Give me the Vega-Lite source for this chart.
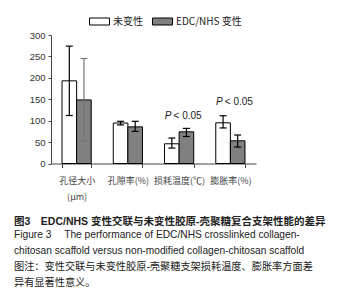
{
  "$schema": "https://vega.github.io/schema/vega-lite/v6.json",
  "width": 205,
  "height": 128.5,
  "autosize": "none",
  "padding": {"left": 51, "top": 35, "right": 93, "bottom": 124.5},
  "background": "white",
  "config": {
    "view": {"stroke": null},
    "font": "Liberation Sans",
    "axis": {"domainColor": "#444", "tickColor": "#444", "labelColor": "#333", "grid": false, "title": null},
    "axisY": {"tickSize": 3, "labelPadding": 3, "labelFontSize": 9.5, "labelOverlap": false, "labelFlush": false}
  },
  "title": {
    "text": "图3　EDC/NHS 变性交联与未变性胶原-壳聚糖复合支架性能的差异",
    "subtitle": ["Figure 3　 The performance of EDC/NHS crosslinked collagen-", "chitosan scaffold versus non-modified collagen-chitosan scaffold", "图注：变性交联与未变性胶原-壳聚糖支架损耗温度、膨胀率方面差", "异有显著性意义。"],
    "orient": "bottom",
    "anchor": "start",
    "frame": "group",
    "dx": -37,
    "offset": 15,
    "font": "Liberation Sans, Noto Sans CJK SC",
    "fontSize": 10.5,
    "fontWeight": "bold",
    "color": "#222",
    "subtitleFont": "Liberation Sans, Noto Sans CJK SC",
    "subtitleFontSize": 10.2,
    "subtitleColor": "#222",
    "subtitleLineHeight": 16,
    "subtitlePadding": 3
  },
  "data": {
    "values": [
      {"cat": "孔径大小(μm)", "grp": "未变性", "value": 193, "low": 112, "high": 274},
      {"cat": "孔径大小(μm)", "grp": "EDC/NHS 变性", "value": 148.5, "low": 52.5, "high": 245},
      {"cat": "孔隙率(%)", "grp": "未变性", "value": 94.5, "low": 90, "high": 98.5},
      {"cat": "孔隙率(%)", "grp": "EDC/NHS 变性", "value": 85.5, "low": 75, "high": 98.5},
      {"cat": "损耗温度(℃)", "grp": "未变性", "value": 46, "low": 36, "high": 59.5},
      {"cat": "损耗温度(℃)", "grp": "EDC/NHS 变性", "value": 74, "low": 63, "high": 82},
      {"cat": "膨胀率(%)", "grp": "未变性", "value": 95, "low": 83, "high": 111.5},
      {"cat": "膨胀率(%)", "grp": "EDC/NHS 变性", "value": 53, "low": 38.5, "high": 66.5}
    ]
  },
  "encoding": {
    "x": {
      "field": "cat", "type": "nominal",
      "sort": ["孔径大小(μm)", "孔隙率(%)", "损耗温度(℃)", "膨胀率(%)"],
      "scale": {"paddingInner": 0.43, "paddingOuter": 0.215},
      "axis": {
        "labelAngle": 0, "tickBand": "extent", "tickSize": 4, "labelPadding": 9,
        "labelFont": "Noto Sans CJK SC", "labelFontSize": 9, "labelColor": "#444",
        "labelLineHeight": 16, "labelBaseline": "top",
        "labelExpr": "datum.value == '孔径大小(μm)' ? ['孔径大小', '(μm)\u00a0\u00a0\u00a0\u00a0\u00a0\u00a0\u00a0'] : datum.value"
      }
    },
    "xOffset": {
      "field": "grp", "type": "nominal", "sort": ["未变性", "EDC/NHS 变性"],
      "scale": {"paddingInner": 0, "paddingOuter": 0}
    }
  },
  "layer": [
    {
      "mark": {"type": "bar", "stroke": "black", "strokeWidth": 1},
      "encoding": {
        "y": {"field": "value", "type": "quantitative",
          "scale": {"domain": [0, 300], "nice": false, "zero": true},
          "axis": {"values": [0, 50, 100, 150, 200, 250, 300]}},
        "fill": {"field": "grp", "type": "nominal", "sort": ["未变性", "EDC/NHS 变性"],
          "scale": {"domain": ["未变性", "EDC/NHS 变性"], "range": ["white", "#808080"]},
          "legend": {
            "orient": "none", "legendX": 38, "legendY": -24, "direction": "horizontal", "title": null,
            "symbolType": "M-1,-0.35H1V0.35H-1Z", "symbolSize": 400,
            "symbolStrokeColor": "black", "symbolStrokeWidth": 1, "symbolOpacity": 1,
            "labelFont": "Noto Sans CJK SC", "labelFontSize": 10, "labelColor": "#222",
            "labelOffset": 3, "columnPadding": 7, "padding": 0
          }}
      }
    },
    {
      "mark": {"type": "rule", "strokeWidth": 1.2},
      "encoding": {
        "y": {"field": "low", "type": "quantitative", "axis": {"values": [0, 50, 100, 150, 200, 250, 300]}},
        "y2": {"field": "high"},
        "color": {"condition": {"test": "datum.cat == '孔径大小(μm)' && datum.grp == 'EDC/NHS 变性'", "value": "#777"}, "value": "black"}
      }
    },
    {
      "mark": {"type": "tick", "size": 7, "thickness": 1.2, "opacity": 1},
      "encoding": {
        "y": {"field": "high", "type": "quantitative", "axis": {"values": [0, 50, 100, 150, 200, 250, 300]}},
        "color": {"condition": {"test": "datum.cat == '孔径大小(μm)' && datum.grp == 'EDC/NHS 变性'", "value": "#777"}, "value": "black"}
      }
    },
    {
      "mark": {"type": "tick", "size": 7, "thickness": 1.2, "opacity": 1},
      "encoding": {
        "y": {"field": "low", "type": "quantitative", "axis": {"values": [0, 50, 100, 150, 200, 250, 300]}},
        "color": {"condition": {"test": "datum.cat == '孔径大小(μm)' && datum.grp == 'EDC/NHS 变性'", "value": "#777"}, "value": "black"}
      }
    },
    {
      "data": {"values": [
        {"cat": "损耗温度(℃)", "ptext": "P", "rest": "< 0.05", "ypos": 111},
        {"cat": "膨胀率(%)", "ptext": "P", "rest": "< 0.05", "ypos": 143}
      ]},
      "layer": [
        {
          "mark": {"type": "text", "align": "right", "baseline": "middle", "fontStyle": "italic", "fontSize": 10, "color": "#222", "dx": 7},
          "encoding": {
            "x": {"field": "cat", "type": "nominal", "sort": ["孔径大小(μm)", "孔隙率(%)", "损耗温度(℃)", "膨胀率(%)"]},
            "xOffset": {"value": 0},
            "y": {"field": "ypos", "type": "quantitative", "axis": {"values": [0, 50, 100, 150, 200, 250, 300]}},
            "text": {"field": "ptext"}
          }
        },
        {
          "mark": {"type": "text", "align": "left", "baseline": "middle", "fontSize": 10, "color": "#222", "dx": 9},
          "encoding": {
            "x": {"field": "cat", "type": "nominal", "sort": ["孔径大小(μm)", "孔隙率(%)", "损耗温度(℃)", "膨胀率(%)"]},
            "xOffset": {"value": 0},
            "y": {"field": "ypos", "type": "quantitative", "axis": {"values": [0, 50, 100, 150, 200, 250, 300]}},
            "text": {"field": "rest"}
          }
        }
      ]
    }
  ]
}
